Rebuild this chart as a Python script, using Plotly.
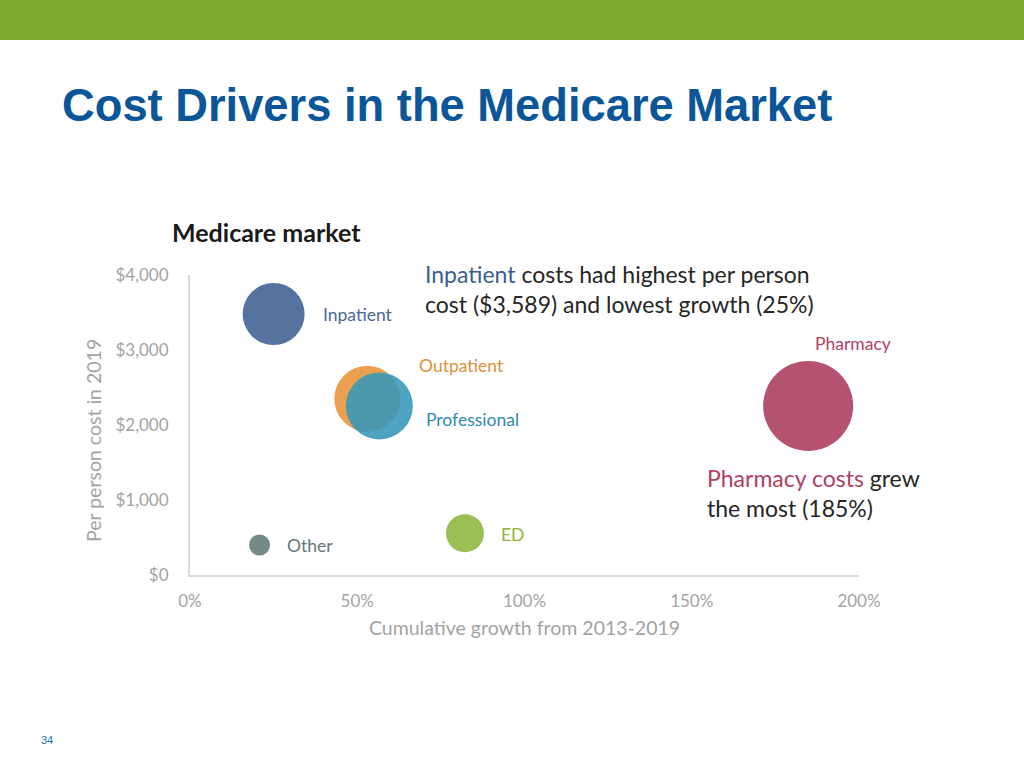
import plotly.graph_objects as go

# ---- data ----
categories = ["Inpatient", "Outpatient", "Professional", "Pharmacy", "ED", "Other"]
growth = [0.25, 0.53, 0.566, 1.848, 0.822, 0.208]          # cumulative growth 2013-2019
cost = [3480, 2350, 2255, 2255, 556, 400]                   # per person cost 2019
bubble_size = [62, 66, 67, 90, 38, 21]
x_ticks = [0, 0.5, 1.0, 1.5, 2.0]
x_tick_labels = ["0%", "50%", "100%", "150%", "200%"]
y_ticks = [0, 1000, 2000, 3000, 4000]
y_tick_labels = ["$0", "$1,000", "$2,000", "$3,000", "$4,000"]

# ---- style ----
bubble_colors = ["#55739E", "#E99B45", "#3596BA", "#B5536E", "#9BBF55", "#738A86"]
bubble_opacity = [1, 0.95, 0.88, 1, 1, 1]
label_colors = ["#4A6A9A", "#E0913A", "#2E8AB0", "#B0405F", "#8DB53C", "#66777A"]
label_shift = [(49, 0), (52, 33), (47, -14), (7, 62), (36, -1), (27, 0)]

W, H = 1024, 768
L, R, T, B = 190, 165, 275, 193
PW, PH = W - L - R, H - T - B

def px(xp):
    return (xp - L) / PW

def py(yp):
    return (H - B - yp) / PH

FONT = "Lato"
GRAY = "#A3A3A3"

fig = go.Figure()
for i, c in enumerate(categories):
    fig.add_trace(go.Scatter(
        x=[growth[i]], y=[cost[i]], mode="markers", name=c,
        marker=dict(size=bubble_size[i], sizemode="diameter", color=bubble_colors[i],
                    opacity=bubble_opacity[i], line=dict(width=0)),
        showlegend=False,
    ))

annotations = []
for i, c in enumerate(categories):
    annotations.append(dict(
        x=growth[i], y=cost[i], xref="x", yref="y", text=c, showarrow=False,
        xanchor="left", yanchor="middle", xshift=label_shift[i][0] - 2, yshift=label_shift[i][1],
        font=dict(family=FONT, size=17.5, color=label_colors[i]),
    ))

# slide title
annotations.append(dict(x=px(60), y=py(105), xref="paper", yref="paper",
                        text="<b>Cost Drivers in the Medicare Market</b>", showarrow=False,
                        xanchor="left", yanchor="middle",
                        font=dict(family="Liberation Sans", size=45.3, color="#0A5699")))
# chart title
annotations.append(dict(x=px(170), y=py(232), xref="paper", yref="paper",
                        text="<b>Medicare market</b>", showarrow=False,
                        xanchor="left", yanchor="middle",
                        font=dict(family=FONT, size=25, color="#1A1A1A")))
# y axis title
annotations.append(dict(x=px(93), y=py(441), xref="paper", yref="paper",
                        text="Per person cost in 2019", showarrow=False, textangle=-90,
                        xanchor="center", yanchor="middle",
                        font=dict(family=FONT, size=19.5, color=GRAY)))
# callouts
annotations.append(dict(x=px(423), y=py(289), xref="paper", yref="paper",
                        text="<span style='color:#3A5F8F'>Inpatient</span> costs had highest per person<br>cost ($3,589) and lowest growth (25%)",
                        showarrow=False, xanchor="left", yanchor="middle", align="left",
                        font=dict(family=FONT, size=23, color="#262626")))
annotations.append(dict(x=px(705), y=py(493), xref="paper", yref="paper",
                        text="<span style='color:#B0405F'>Pharmacy costs</span> grew<br>the most (185%)",
                        showarrow=False, xanchor="left", yanchor="middle", align="left",
                        font=dict(family=FONT, size=23, color="#262626")))
# page number
annotations.append(dict(x=px(47), y=py(740), xref="paper", yref="paper", text="34",
                        showarrow=False, xanchor="center", yanchor="middle",
                        font=dict(family="Liberation Sans", size=11, color="#1F6FB5")))

shapes = [dict(type="rect", xref="paper", yref="paper", x0=px(0), x1=px(W), y0=py(40), y1=py(0),
               fillcolor="#7BAA31", line=dict(width=0), layer="below")]

fig.update_layout(
    width=W, height=H, margin=dict(l=L, r=R, t=T, b=B, autoexpand=False),
    paper_bgcolor="white", plot_bgcolor="white",
    annotations=annotations, shapes=shapes,
    xaxis=dict(range=[0, 2], tickvals=x_ticks, ticktext=x_tick_labels, showgrid=False, zeroline=False,
               showline=True, linecolor="#D9D9D9", linewidth=2, ticks="", ticklabelstandoff=10,
               tickfont=dict(family=FONT, size=17, color=GRAY),
               title=dict(text="Cumulative growth from 2013-2019", standoff=11,
                          font=dict(family=FONT, size=19.5, color=GRAY))),
    yaxis=dict(range=[0, 4000], tickvals=y_ticks, ticktext=y_tick_labels, showgrid=False,
               zeroline=False, showline=True, linecolor="#D9D9D9", linewidth=2, ticks="",
               ticklabelstandoff=16,
               tickfont=dict(family=FONT, size=17, color=GRAY)),
)

fig.write_html("out.html", config={"displayModeBar": False},
               post_script="document.body.style.margin='0';")
